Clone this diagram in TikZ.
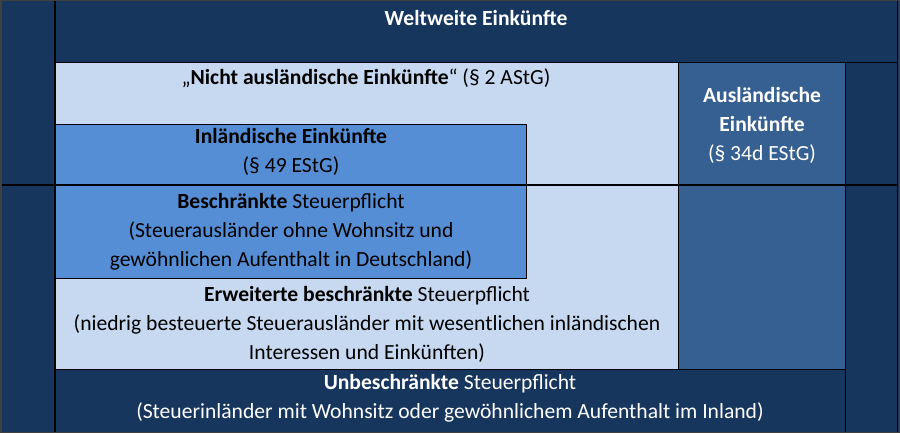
\documentclass[tikz,border=0pt]{standalone}
\usepackage{fontspec}
\setmainfont{Carlito}
\definecolor{navy}{HTML}{17365D}
\definecolor{lightblue}{HTML}{C6D9F1}
\definecolor{midblue}{HTML}{558ED5}
\definecolor{ausblue}{HTML}{366092}
\definecolor{framegray}{HTML}{404040}
\tikzset{
  cell/.style={draw=black, line width=0.8pt},
  sep/.style={draw=black, line width=2pt},
  lbl/.style={align=center, inner sep=0pt, font=\fontsize{21.6}{29}\selectfont},
  wlbl/.style={lbl, text=white},
}
\begin{document}
\begin{tikzpicture}[x=1pt,y=-1pt]
\useasboundingbox (0,0) rectangle (900,433);
\fill[navy] (0,0) rectangle (900,433);
% cells
\path[cell, fill=navy] (55,0) rectangle (897,62);
\path[cell, fill=lightblue] (55,62) rectangle (678,369);
\path[cell, fill=ausblue] (678,62) rectangle (845,369);
\path[cell, fill=navy] (845,62) rectangle (897,432);
\path[cell, fill=navy] (55,369) rectangle (845,432);
\path[cell, fill=midblue] (55,124) rectangle (526,185);
\path[cell, fill=midblue] (55,185) rectangle (526,278);
% separators
\draw[sep] (0,185) -- (897,185);
\draw[sep] (55,0) -- (55,432);
\draw[framegray, line width=1.5pt] (0.75,0.75) rectangle (899.25,432.25);
% texts
\node[wlbl] (welt) at (476,18) {\textbf{Weltweite Einkünfte}};
\node[lbl] (nicht) at (366,78) {„\textbf{Nicht ausländische Einkünfte}“ (§ 2 AStG)};
\node[lbl] (inl) at (291,152) {\textbf{Inländische Einkünfte}\\(§ 49 EStG)};
\node[lbl] (besch) at (291,232) {\textbf{Beschränkte} Steuerpflicht\\(Steuerausländer ohne Wohnsitz und\\gewöhnlichen Aufenthalt in Deutschland)};
\node[lbl] (erw) at (367,324) {\textbf{Erweiterte beschränkte} Steuerpflicht\\(niedrig besteuerte Steuerausländer mit wesentlichen inländischen\\Interessen und Einkünften)};
\node[wlbl] (ausl) at (762,125) {\textbf{Ausländische}\\\textbf{Einkünfte}\\(§ 34d EStG)};
\node[wlbl] (unb) at (450,398) {\textbf{Unbeschränkte} Steuerpflicht\\(Steuerinländer mit Wohnsitz oder gewöhnlichem Aufenthalt im Inland)};
\end{tikzpicture}
\end{document}
